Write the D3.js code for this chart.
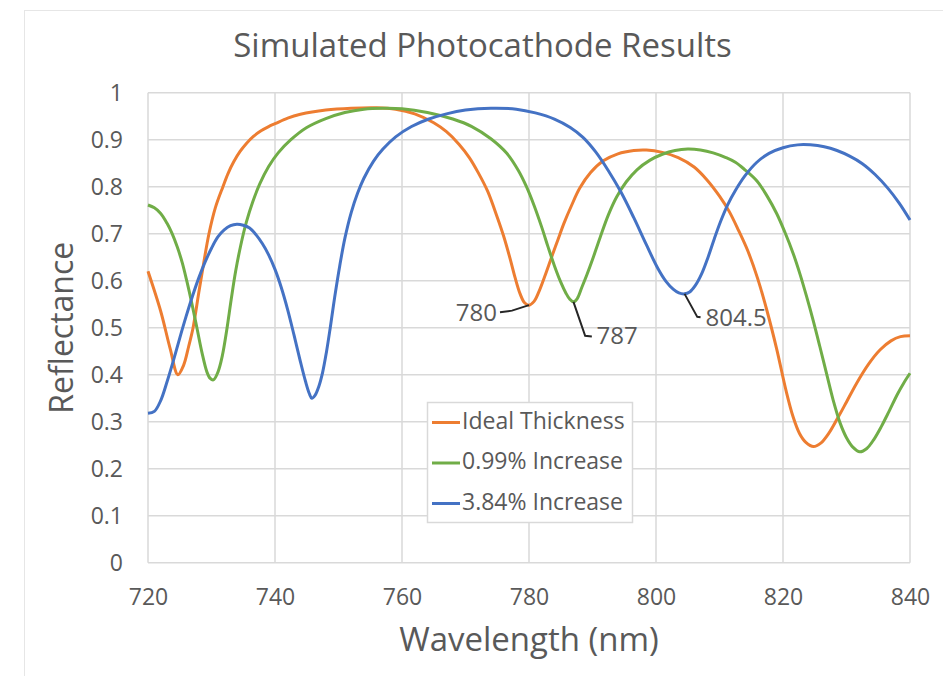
<!DOCTYPE html>
<html>
<head>
<meta charset="utf-8">
<script src="https://cdn.jsdelivr.net/npm/d3@7"></script>
<style>
  html, body { margin: 0; padding: 0; background: #ffffff; }
  svg { display: block; }
  text { font-family: "Open Sans", "Noto Sans", sans-serif; fill: #595959; }
</style>
</head>
<body>
<svg id="chart" width="943" height="676"></svg>
<script>
// Reflectance spectra, [wavelength (nm), reflectance]
const idealThickness = [
  [720, 0.62], [722, 0.535], [723.5, 0.455], [724.7, 0.40], [725.6, 0.42],
  [726.4, 0.46], [727.1, 0.50], [728, 0.575], [728.8, 0.64], [729.6, 0.70],
  [730.6, 0.755], [731.8, 0.80], [732.6, 0.828], [733.5, 0.853], [734.5, 0.875],
  [735.5, 0.892], [736.6, 0.907], [737.8, 0.919], [739, 0.928], [740, 0.934],
  [742, 0.946], [744, 0.954], [748, 0.963], [752, 0.967], [756, 0.968],
  [759, 0.965], [762, 0.955], [765, 0.936], [767, 0.917], [769, 0.89],
  [770.6, 0.862], [772, 0.83], [773.5, 0.79], [775, 0.735], [776, 0.695],
  [777, 0.648], [777.8, 0.607], [778.6, 0.572], [779.3, 0.553], [780, 0.548],
  [780.8, 0.556], [781.6, 0.578], [782.5, 0.61], [783.5, 0.648], [784.5, 0.685],
  [785.5, 0.722], [786.7, 0.76], [788, 0.797], [789.7, 0.83], [791.7, 0.855],
  [794, 0.87], [796.5, 0.877], [798.5, 0.878], [801, 0.873], [803.5, 0.862],
  [806, 0.842], [808, 0.815], [810, 0.78], [811.5, 0.748], [813, 0.707],
  [814.5, 0.662], [816, 0.605], [817.5, 0.535], [819, 0.455], [820.5, 0.365],
  [821.6, 0.31], [822.6, 0.275], [823.6, 0.256], [824.8, 0.247], [826, 0.255],
  [827.2, 0.275], [828.5, 0.305], [830, 0.342], [831.6, 0.382], [833.5, 0.423],
  [835.3, 0.453], [837, 0.472], [838.5, 0.481], [840, 0.483]
];

const increase099 = [
  [720, 0.761], [721, 0.755], [722, 0.743], [723, 0.722], [723.8, 0.70],
  [724.6, 0.672], [725.4, 0.638], [726.1, 0.60], [726.9, 0.552], [727.7, 0.50],
  [728.5, 0.447], [729.3, 0.405], [729.8, 0.392], [730.3, 0.389],
  [731, 0.405], [731.7, 0.44], [732.4, 0.495], [733.1, 0.56], [733.8, 0.62],
  [734.6, 0.675], [735.5, 0.725], [736.5, 0.768], [737.6, 0.806], [739, 0.843],
  [740.5, 0.872], [742.5, 0.90], [745, 0.926], [748, 0.945], [751, 0.958],
  [754, 0.965], [757, 0.967], [760, 0.966], [764, 0.958], [768, 0.944],
  [771, 0.928], [774, 0.902], [776.5, 0.871], [778.3, 0.835], [779.6, 0.80],
  [780.8, 0.76], [782, 0.714], [783, 0.672], [784, 0.632], [785, 0.597],
  [785.8, 0.574], [786.4, 0.561], [787, 0.555], [787.6, 0.562], [788.3, 0.585],
  [789.1, 0.612], [790, 0.645], [791.2, 0.692], [792.5, 0.74], [793.8, 0.778],
  [795.3, 0.81], [797, 0.836], [799, 0.856], [801, 0.869], [803, 0.877],
  [805, 0.88], [807, 0.878], [809, 0.872], [811, 0.862], [812.5, 0.852],
  [814, 0.836], [815.9, 0.812], [817.5, 0.78], [819, 0.743], [820.3, 0.703],
  [821.6, 0.658], [822.7, 0.613], [823.7, 0.567], [824.8, 0.513], [825.8, 0.46],
  [826.9, 0.40], [827.9, 0.346], [829, 0.297], [830, 0.266], [831, 0.246],
  [832.1, 0.236], [833.2, 0.243], [834.3, 0.262], [835.5, 0.29], [836.7, 0.322],
  [838, 0.358], [839, 0.382], [840, 0.403]
];

const increase384 = [
  [720, 0.318], [721, 0.322], [722, 0.345], [723, 0.385], [724, 0.43],
  [725, 0.478], [726, 0.524], [727, 0.567], [728, 0.606], [729, 0.64],
  [730, 0.669], [731, 0.693], [732, 0.708], [733, 0.717], [734, 0.72],
  [735, 0.718], [736, 0.712], [737, 0.698], [738, 0.679], [739, 0.655],
  [740, 0.624], [741, 0.585], [742, 0.538], [743, 0.484], [744, 0.428],
  [744.8, 0.386], [745.4, 0.36], [745.8, 0.35], [746.3, 0.356], [746.9, 0.375],
  [747.5, 0.405], [748.1, 0.448], [748.7, 0.50], [749.4, 0.565], [750.2, 0.632],
  [751, 0.69], [752, 0.745], [753, 0.786], [754, 0.818], [755.5, 0.854],
  [757, 0.88], [759, 0.906], [761.5, 0.928], [764, 0.943], [767, 0.955],
  [770, 0.963], [774, 0.967], [778, 0.965], [781, 0.957], [784, 0.944],
  [786.5, 0.926], [788.5, 0.905], [790.5, 0.874], [792.5, 0.834], [794.5, 0.788],
  [796.5, 0.734], [798.5, 0.676], [800.3, 0.626], [801.6, 0.598], [802.7, 0.582],
  [803.6, 0.574], [804.5, 0.572], [805.3, 0.576], [806.2, 0.59], [807.2, 0.615],
  [808.2, 0.65], [809.2, 0.69], [810.2, 0.727], [811.3, 0.762], [812.5, 0.792],
  [814, 0.823], [815.8, 0.851], [817.8, 0.871], [820, 0.883], [822.3, 0.889],
  [824.3, 0.889], [826.5, 0.885], [828.5, 0.877], [830.5, 0.865], [832.5, 0.849],
  [834.5, 0.826], [836.5, 0.797], [838.3, 0.765], [840, 0.729]
];

const seriesNames = ["Ideal Thickness", "0.99% Increase", "3.84% Increase"];
const seriesColors = ["#ED7D31", "#70AD47", "#4472C4"];
const xTicks = [720, 740, 760, 780, 800, 820, 840];
const yTicks = [0, 0.1, 0.2, 0.3, 0.4, 0.5, 0.6, 0.7, 0.8, 0.9, 1];

// Marked reflectance minima: [series index, wavelength]
const minimaLabels = [[0, 780], [1, 787], [2, 804.5]];

const svg = d3.select("#chart");
const x = d3.scaleLinear().domain([720, 840]).range([148, 910]);
const y = d3.scaleLinear().domain([0, 1]).range([562.7, 92.7]);

// chart frame
svg.append("rect")
  .attr("x", 24.5).attr("y", 10.5).attr("width", 940).attr("height", 700)
  .attr("fill", "#ffffff").attr("stroke", "#e6e6e6").attr("stroke-width", 1);

// title
svg.append("text")
  .attr("x", 482.5).attr("y", 57)
  .attr("text-anchor", "middle")
  .attr("font-size", 33)
  .text("Simulated Photocathode Results");

// gridlines
const grid = svg.append("g").attr("stroke", "#d9d9d9").attr("stroke-width", 1.5);
grid.selectAll(".h").data(yTicks).join("line")
  .attr("x1", x(720)).attr("x2", x(840))
  .attr("y1", d => y(d)).attr("y2", d => y(d));
grid.selectAll(".v").data(xTicks).join("line")
  .attr("y1", y(0)).attr("y2", y(1))
  .attr("x1", d => x(d)).attr("x2", d => x(d));

// axes (labels only)
const xAxis = svg.append("g")
  .attr("transform", `translate(0,${y(0)})`)
  .call(d3.axisBottom(x).tickValues(xTicks).tickSize(0).tickPadding(26).tickFormat(d3.format("d")));
const yAxis = svg.append("g")
  .attr("transform", `translate(${x(720)},0)`)
  .call(d3.axisLeft(y).tickValues(yTicks).tickSize(0).tickPadding(25).tickFormat(d => String(+d.toFixed(1))));
[xAxis, yAxis].forEach(a => {
  a.select(".domain").remove();
  a.selectAll("text").attr("font-size", 23).attr("fill", "#595959")
    .attr("font-family", "'Open Sans', sans-serif");
});

// axis titles
svg.append("text")
  .attr("x", (x(720) + x(840)) / 2).attr("y", 651)
  .attr("text-anchor", "middle").attr("font-size", 33)
  .text("Wavelength (nm)");
svg.append("text")
  .attr("transform", `translate(73,${(y(0) + y(1)) / 2}) rotate(-90)`)
  .attr("text-anchor", "middle").attr("font-size", 32)
  .text("Reflectance");

// spectra
const line = d3.line()
  .x(d => x(d[0])).y(d => y(d[1]))
  .curve(d3.curveCatmullRom.alpha(0.5));
const allSeries = [idealThickness, increase099, increase384];
svg.append("g").selectAll("path").data(allSeries).join("path")
  .attr("d", line)
  .attr("fill", "none")
  .attr("stroke", (d, i) => seriesColors[i])
  .attr("stroke-width", 3)
  .attr("stroke-linejoin", "round");

// minima callouts
const calloutGeom = [
  { elbow: [-17, 5.5], end: [-29, 7], text: [-32, 9], anchor: "end" },
  { elbow: [11.7, 34], end: [18.4, 34.6], text: [23, 36], anchor: "start" },
  { elbow: [12.7, 23], end: [16, 23.5], text: [21, 26], anchor: "start" }
];
minimaLabels.forEach(([si, wl], k) => {
  const pt = allSeries[si].find(d => d[0] === wl);
  const px = x(pt[0]), py = y(pt[1]);
  const g = calloutGeom[k];
  svg.append("polyline")
    .attr("points", [[px, py], [px + g.elbow[0], py + g.elbow[1]], [px + g.end[0], py + g.end[1]]].map(p => p.join(",")).join(" "))
    .attr("fill", "none").attr("stroke", "#262626").attr("stroke-width", 2);
  svg.append("text")
    .attr("x", px + g.text[0]).attr("y", py + g.text[1])
    .attr("text-anchor", g.anchor).attr("dominant-baseline", "middle")
    .attr("font-size", 24)
    .text(String(wl));
});

// legend
const legend = svg.append("g");
legend.append("rect")
  .attr("x", 427.5).attr("y", 402.5).attr("width", 205).attr("height", 120)
  .attr("fill", "#ffffff").attr("stroke", "#d9d9d9").attr("stroke-width", 1.5);
const legendY = [422.5, 463, 503.5];
seriesNames.forEach((name, i) => {
  legend.append("line")
    .attr("x1", 432).attr("x2", 460).attr("y1", legendY[i]).attr("y2", legendY[i])
    .attr("stroke", seriesColors[i]).attr("stroke-width", 3);
  legend.append("text")
    .attr("x", 462).attr("y", legendY[i])
    .attr("dominant-baseline", "middle").attr("font-size", 23)
    .text(name);
});
</script>
</body>
</html>
